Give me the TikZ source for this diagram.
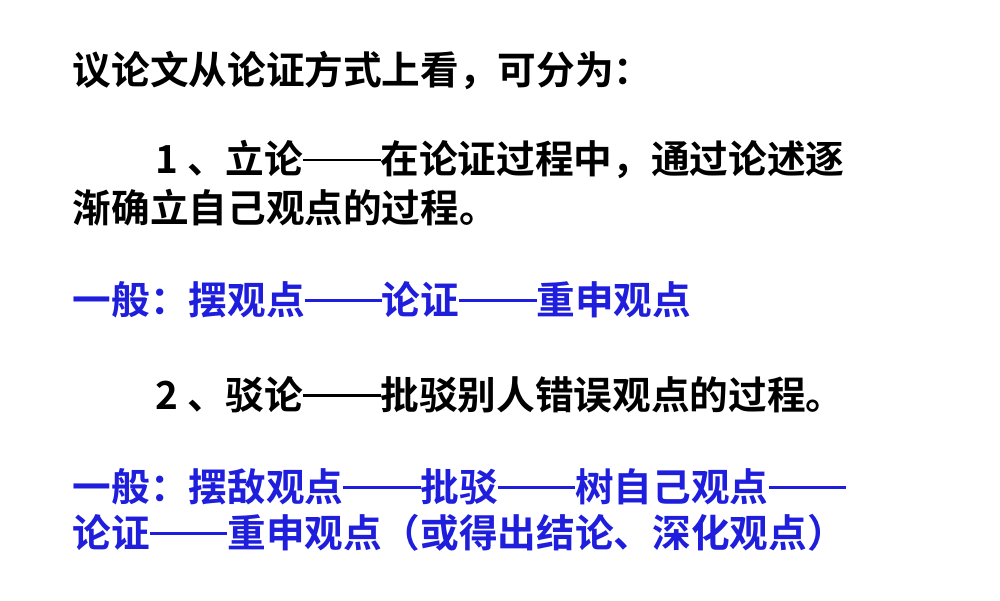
\documentclass[tikz,border=0pt]{standalone}
\usepackage{fontspec}
\newfontfamily\cjk{Noto Sans CJK SC Bold}
\newcommand\dd{\rule[0.33em]{2em}{0.07em}}
\definecolor{tblue}{RGB}{30,30,220}
\begin{document}
\begin{tikzpicture}[x=1cm,y=1cm,
  txt/.style={anchor=west,inner sep=0pt,font=\cjk\fontsize{11}{12}\selectfont},
  bl/.style={txt,text=tblue}]
\useasboundingbox (0,0) rectangle (10,6);
\node[txt] (l1) at (0.72,5.30) {议论文从论证方式上看，可分为：};
\node[txt] (l2) at (1.55,4.40) {1 、立论\dd 在论证过程中，通过论述逐};
\node[txt] (l3) at (0.72,3.92) {渐确立自己观点的过程。};
\node[bl] (l4) at (0.72,3.00) {一般：摆观点\dd 论证\dd 重申观点};
\node[txt] (l5) at (1.55,2.05) {2 、驳论\dd 批驳别人错误观点的过程。};
\node[bl] (l6) at (0.72,1.13) {一般：摆敌观点\dd 批驳\dd 树自己观点\dd};
\node[bl] (l7) at (0.72,0.67) {论证\dd 重申观点（或得出结论、深化观点）};
\end{tikzpicture}
\end{document}
